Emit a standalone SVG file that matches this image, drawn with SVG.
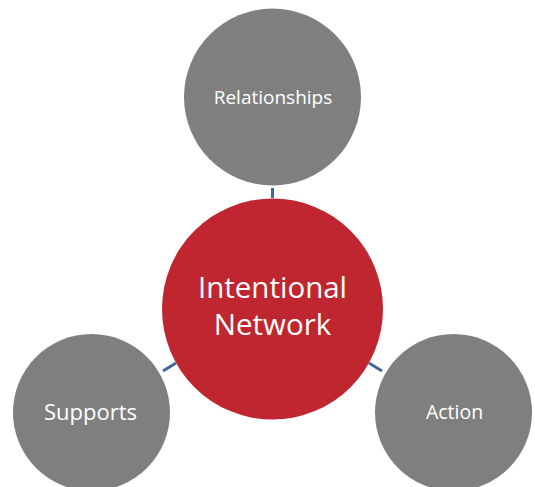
<svg xmlns="http://www.w3.org/2000/svg" width="535" height="487" viewBox="0 0 535 487">
<style>
.sat{fill:#7f7f7f}
.hub{fill:#c0262f}
.lbl{fill:#fff;font-family:"Open Sans","Liberation Sans",sans-serif;text-anchor:middle}
.con{stroke:#3f6797;stroke-width:3;fill:none}
</style>
<rect width="535" height="487" fill="#fff"/>
<g id="connectors">
<line class="con" x1="272.5" y1="188" x2="272.5" y2="198"/>
<line class="con" x1="163" y1="371" x2="176" y2="363"/>
<line class="con" x1="369" y1="363" x2="382" y2="371"/>
</g>
<g id="relationships">
<circle class="sat" cx="272.5" cy="97" r="88.5"/>
<text class="lbl" x="273" y="103.5" font-size="19">Relationships</text>
</g>
<g id="intentional-network">
<circle class="hub" cx="272.5" cy="309" r="110.5"/>
<text class="lbl" x="272.5" y="298" font-size="29.5">Intentional</text>
<text class="lbl" x="272.5" y="335" font-size="29.5">Network</text>
</g>
<g id="supports">
<circle class="sat" cx="91.5" cy="412.5" r="78.5"/>
<text class="lbl" x="90.5" y="420" font-size="22">Supports</text>
</g>
<g id="action">
<circle class="sat" cx="453.5" cy="412.5" r="78.5"/>
<text class="lbl" x="454.5" y="419" font-size="19.5">Action</text>
</g>
</svg>
